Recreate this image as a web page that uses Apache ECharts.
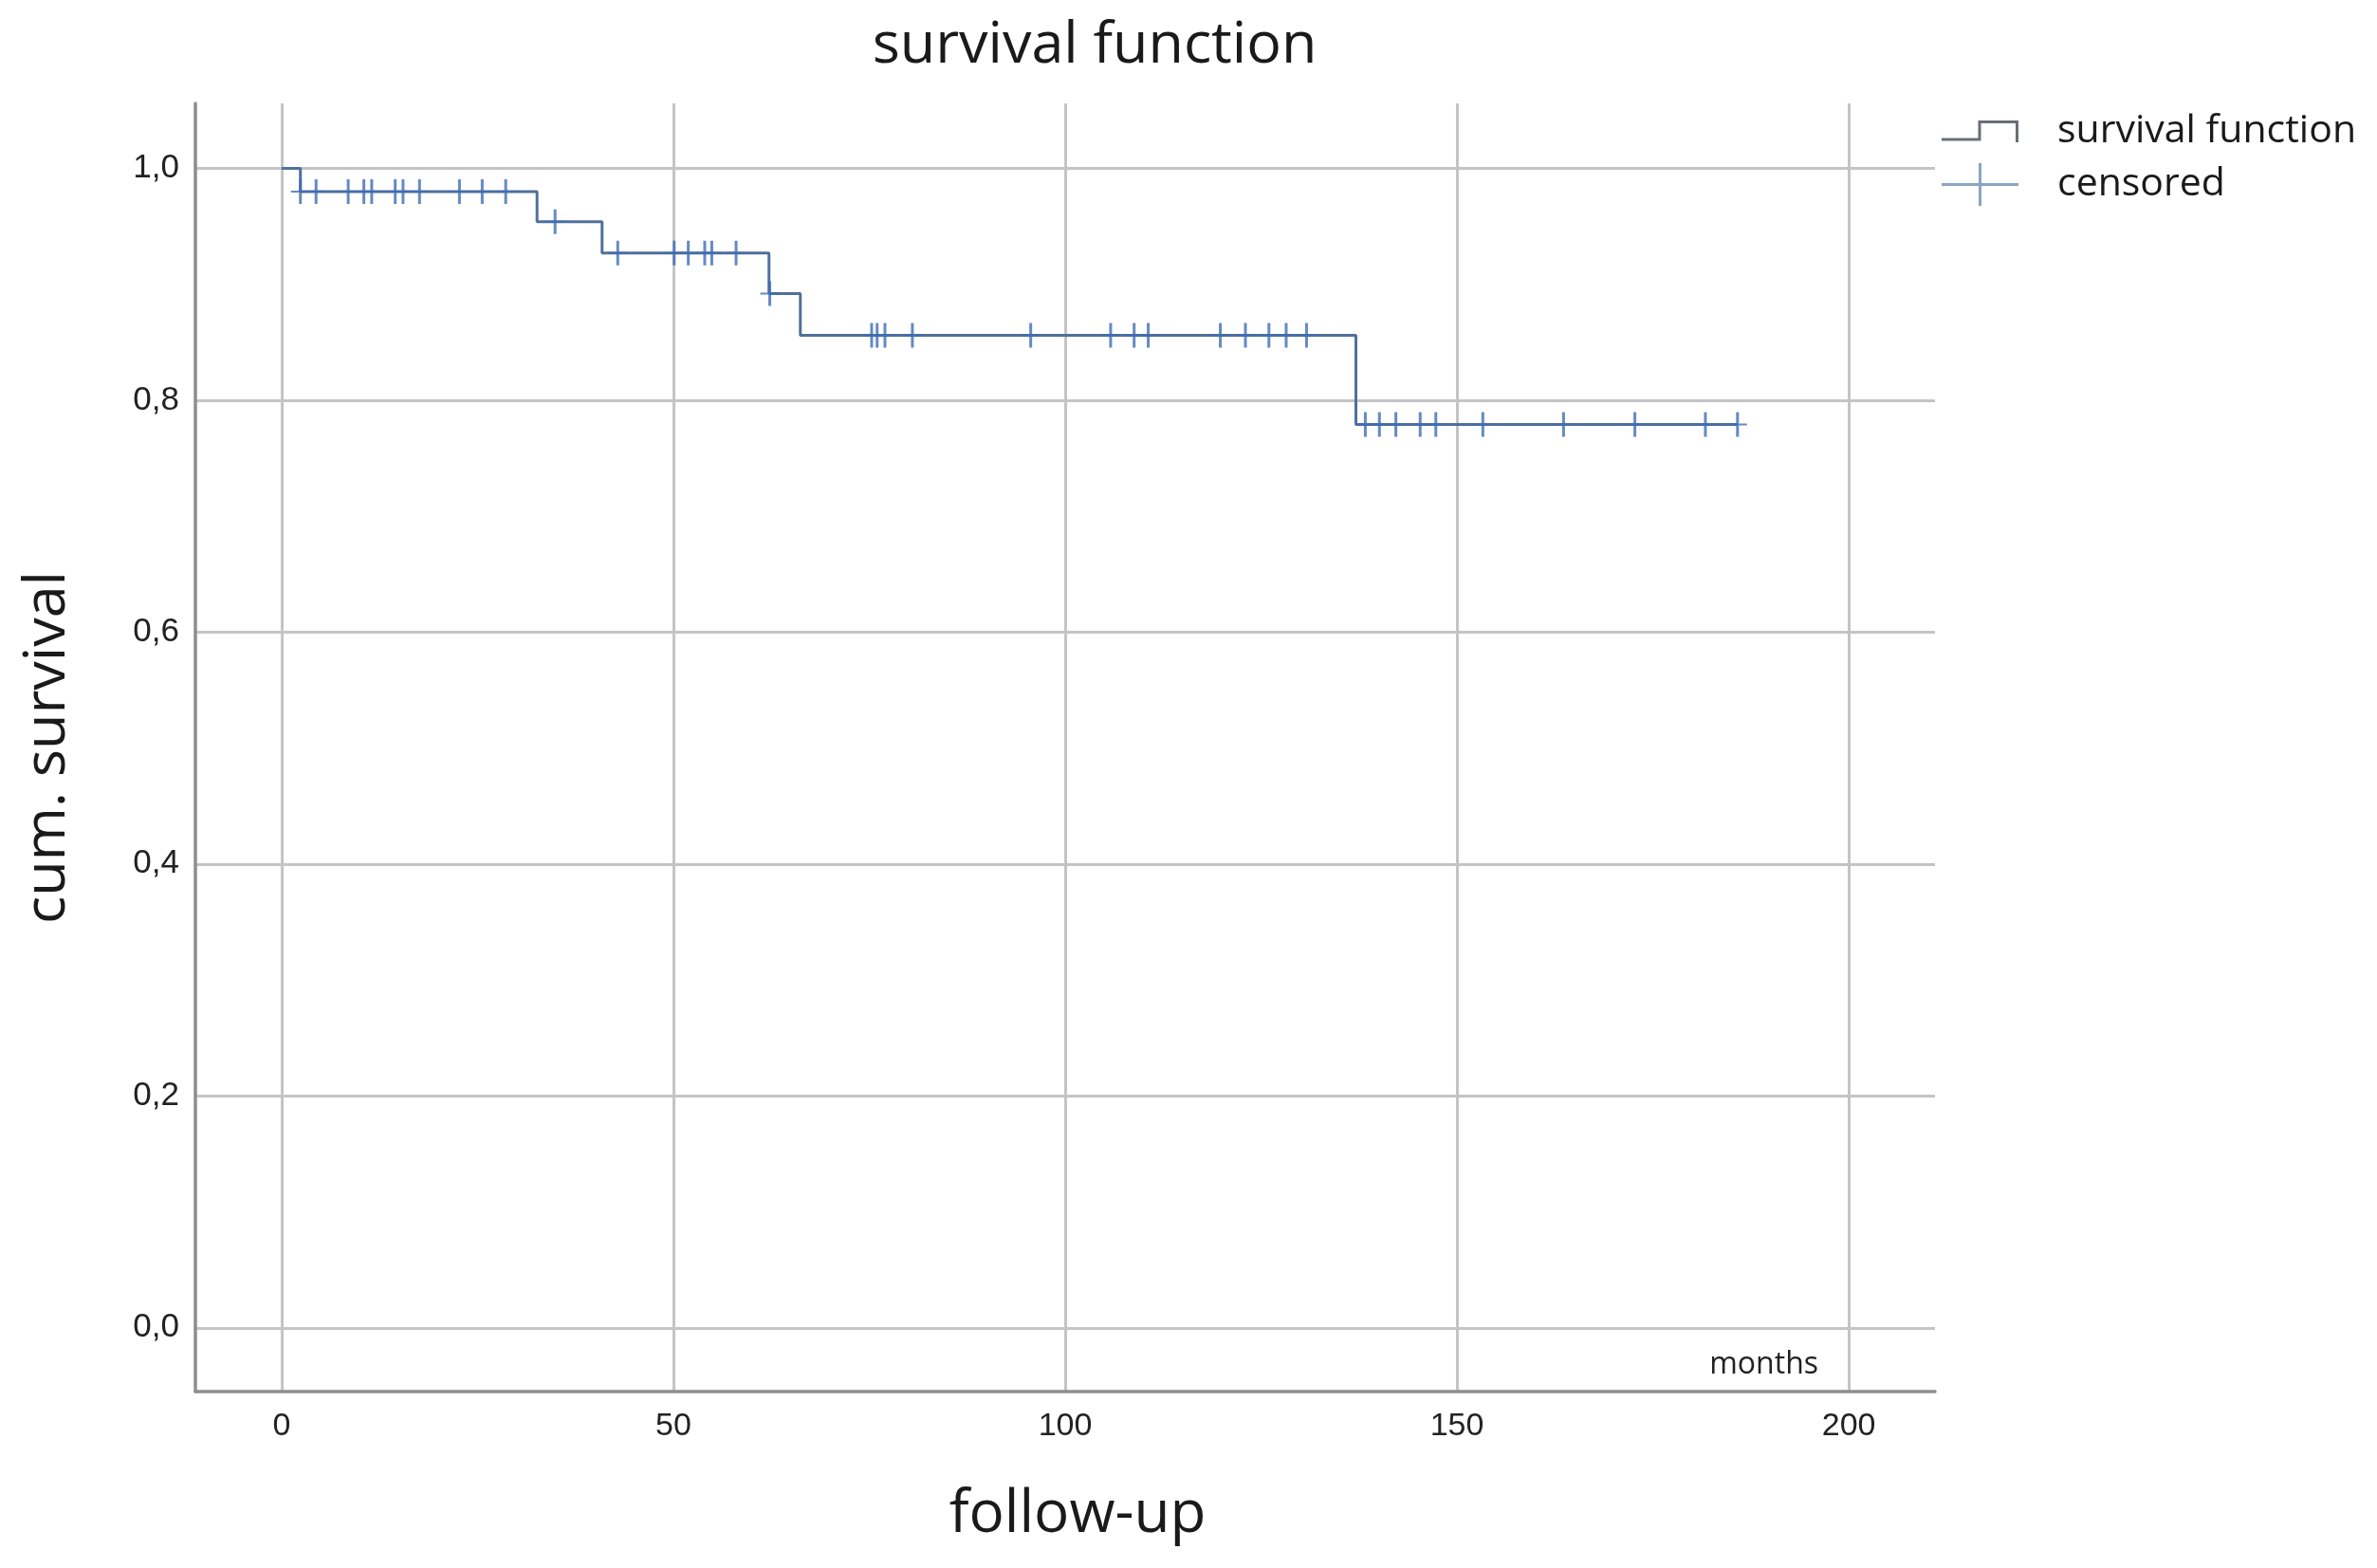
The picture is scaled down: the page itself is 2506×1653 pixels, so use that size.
<!DOCTYPE html>
<html>
<head>
<meta charset="utf-8">
<script src="https://cdn.jsdelivr.net/npm/echarts@6/dist/echarts.min.js"></script>
<style>
html,body{margin:0;padding:0;background:#fff;}
#chart{width:2506px;height:1653px;}
</style>
</head>
<body>
<div id="chart"></div>
<script>
// ---- data ----
const eventTimes = [0, 2.4, 32.6, 40.9, 62.2, 66.2, 137.1];
const survivalLevels = [1.0, 0.980, 0.954, 0.927, 0.892, 0.856, 0.779];
const lastFollowUp = 185.8;
const censoredTimes = [2.4, 4.4, 8.5, 10.5, 11.5, 14.5, 15.5, 17.6, 22.7, 25.6, 28.6,
  34.9,
  42.9, 50.1, 51.9, 54.0, 54.9, 58.0,
  62.3,
  75.3, 76.0, 77.0, 80.5, 95.6, 105.8, 108.8, 110.6, 119.8, 123.0, 126.0, 128.2, 130.8,
  138.3, 140.1, 142.2, 145.3, 147.3, 153.3, 163.6, 172.7, 181.7, 185.8];
const xTicks = [0, 50, 100, 150, 200];
const yTicks = [0, 0.2, 0.4, 0.6, 0.8, 1.0];

// ---- build series ----
const stepData = eventTimes.map((t, i) => [t, survivalLevels[i]]);
stepData.push([lastFollowUp, survivalLevels[survivalLevels.length - 1]]);
function levelAt(t) {
  let s = survivalLevels[0];
  for (let i = 0; i < eventTimes.length; i++) if (eventTimes[i] <= t) s = survivalLevels[i];
  return s;
}
const censoredData = censoredTimes.map(t => [t, levelAt(t)]);

const lineColor = '#50709c';
const censColor = '#3f6db3';
const gridColor = '#c4c4c4';
const axisColor = '#8e8e8e';

const stepIcon = 'path://M0,18.5 H38.5 V0 H81 V23 H78 V3 H41.5 V21.5 H0 Z';
const plusIcon = 'path://M0,21 H39 V0 H42 V21 H81 V24 H42 V45 H39 V24 H0 Z';
const plusSymbol = 'path://M8.5,0 H11.5 V12 H20 V14 H11.5 V26 H8.5 V14 H0 V12 H8.5 Z';

const chart = echarts.init(document.getElementById('chart'));
chart.setOption({
  animation: false,
  backgroundColor: '#ffffff',
  title: {
    text: 'survival function',
    left: 1149, top: 13, textAlign: 'center',
    textStyle: {fontFamily: 'Open Sans', fontSize: 61, fontWeight: 'normal', color: '#1a1a1a'}
  },
  legend: [{
    orient: 'vertical', left: 2047, top: 118, padding: 0,
    itemWidth: 81, itemHeight: 23, symbolKeepAspect: false,
    data: [{name: 'survival function', icon: stepIcon, itemStyle: {color: '#6b6f75', borderWidth: 0}}],
    textStyle: {fontFamily: 'Open Sans', fontSize: 41, color: '#1a1a1a', padding: [0, 0, 0, 36]}
  }, {
    orient: 'vertical', left: 2047, top: 172, padding: 0,
    itemWidth: 81, itemHeight: 45, symbolKeepAspect: false,
    data: [{name: 'censored', icon: plusIcon, itemStyle: {color: '#6f8db5', borderWidth: 0}}],
    textStyle: {fontFamily: 'Open Sans', fontSize: 41, color: '#1a1a1a', padding: [0, 0, 0, 36]}
  }],
  grid: {left: 206, right: 466, top: 109, bottom: 186, containLabel: false},
  xAxis: {
    type: 'value', min: -11, max: 211,
    name: 'follow-up', nameLocation: 'middle', nameGap: 99,
    nameTextStyle: {fontFamily: 'Open Sans', fontSize: 62, color: '#1a1a1a', padding: [0, 0, 0, 26]},
    axisLine: {onZero: false, lineStyle: {color: axisColor, width: 3.5}},
    axisTick: {show: false, customValues: xTicks},
    axisLabel: {customValues: xTicks, margin: 20, fontFamily: 'Liberation Sans', fontSize: 34, color: '#222'},
    splitLine: {show: true, lineStyle: {color: gridColor, width: 3}}
  },
  yAxis: {
    type: 'value', min: -0.055, max: 1.056,
    name: 'cum. survival', nameLocation: 'middle', nameGap: 125, nameRotate: 90,
    nameTextStyle: {fontFamily: 'Open Sans', fontSize: 61, color: '#1a1a1a'},
    axisLine: {show: true, onZero: false, lineStyle: {color: axisColor, width: 3.5}},
    axisTick: {show: false, customValues: yTicks},
    axisLabel: {customValues: yTicks, margin: 17, fontFamily: 'Liberation Sans', fontSize: 35, color: '#222',
      formatter: v => v.toFixed(1).replace('.', ',')},
    splitLine: {show: true, lineStyle: {color: gridColor, width: 3}}
  },
  graphic: [{
    type: 'text', right: 2506 - 1917, top: 1423,
    style: {text: 'months', fontFamily: 'Open Sans', fontSize: 32, fill: '#222'}
  }],
  series: [{
    name: 'survival function', type: 'line', step: 'end',
    data: stepData, symbol: 'none',
    lineStyle: {color: lineColor, width: 3},
    itemStyle: {color: lineColor}, z: 3
  }, {
    name: 'censored', type: 'scatter',
    data: censoredData, symbol: plusSymbol, symbolSize: [20, 26],
    itemStyle: {color: censColor}, z: 4
  }]
});
</script>
</body>
</html>
